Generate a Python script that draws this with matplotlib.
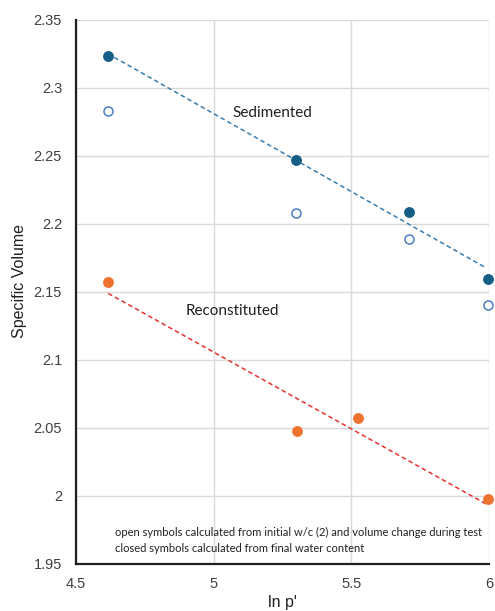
import numpy as np
import matplotlib
matplotlib.use('Agg')
import matplotlib.pyplot as plt

plt.rcParams['font.family'] = ['Lato', 'DejaVu Sans']

# Sedimented samples
sed_x = [4.615, 5.300, 5.708, 5.997]
sed_closed = [2.323, 2.2465, 2.2085, 2.1594]
sed_open = [2.283, 2.208, 2.1886, 2.1399]

# Reconstituted samples
rec_x = [4.617, 5.304, 5.523, 5.997]
rec_closed = [2.1568, 2.0476, 2.057, 1.9977]

x_ticks = [4.5, 5, 5.5, 6]
y_ticks = [1.95, 2, 2.05, 2.1, 2.15, 2.2, 2.25, 2.3, 2.35]

fig = plt.figure(figsize=(4.95, 6.11), dpi=100)
ax = fig.add_axes([76 / 495, 1 - 563.5 / 611, 413 / 495, 544 / 611])

ax.set_xlim(4.5, 6)
ax.set_ylim(1.95, 2.35)
ax.set_xticks(x_ticks)
ax.set_xticklabels(['4.5', '5', '5.5', '6'], family='Liberation Sans')
ax.set_yticks(y_ticks)
ax.set_yticklabels(['1.95', '2', '2.05', '2.1', '2.15', '2.2', '2.25', '2.3', '2.35'],
                   family='Liberation Sans')
ax.grid(True, color='#d9d9d9', linewidth=1)
ax.set_axisbelow(True)
ax.tick_params(length=0, labelsize=10.5, colors='#404040')
ax.tick_params(axis='x', pad=10)
ax.tick_params(axis='y', pad=10)

for s in ['top', 'right']:
    ax.spines[s].set_visible(False)
for s in ['left', 'bottom']:
    ax.spines[s].set_color('#202020')
    ax.spines[s].set_linewidth(1.6)

# linear trend lines through closed symbols
sx = np.array(sed_x)
m, c = np.polyfit(sx, sed_closed, 1)
ax.plot([sx[0], sx[-1] - 0.01], [m * sx[0] + c, m * (sx[-1] - 0.01) + c],
        linestyle=(0, (3, 2)), color='#3a7db0', linewidth=1.1, clip_on=False)
rx = np.array(rec_x)
m2, c2 = np.polyfit(rx, rec_closed, 1)
ax.plot([rx[0], rx[-1]], [m2 * rx[0] + c2, m2 * rx[-1] + c2],
        linestyle=(0, (3, 2)), color='#e8322e', linewidth=1.1, clip_on=False)

ax.plot(sed_x, sed_closed, 'o', color='#155e85', markersize=6.8, clip_on=False, zorder=5)
ax.plot(sed_x, sed_open, 'o', markerfacecolor='white', markeredgecolor='#4a7ebf',
        markeredgewidth=1.1, markersize=6.5, clip_on=False, zorder=5)
ax.plot(rec_x, rec_closed, 'o', color='#ee7330', markersize=6.8, clip_on=False, zorder=5)

ax.text(5.07, 2.281, 'Sedimented', fontsize=11, color='#202020', va='center')
ax.text(4.897, 2.1359, 'Reconstituted', fontsize=11, color='#202020', va='center')
ax.text(4.642, 1.9725, 'open symbols calculated from initial w/c (2) and volume change during test',
        fontsize=8, color='#202020', va='center')
ax.text(4.642, 1.961, 'closed symbols calculated from final water content',
        fontsize=8, color='#202020', va='center')

ax.set_xlabel("ln p'", fontsize=11.5, color='#202020', family='Liberation Sans')
ax.set_ylabel('Specific Volume', fontsize=11.5, color='#202020', family='Liberation Sans')
ax.xaxis.set_label_coords(0.499, -0.0726)
ax.yaxis.set_label_coords(-0.1356, 0.519)
ax.xaxis.label.set_va('center')
ax.yaxis.label.set_va('center')

fig.savefig('out.png', dpi=100)
